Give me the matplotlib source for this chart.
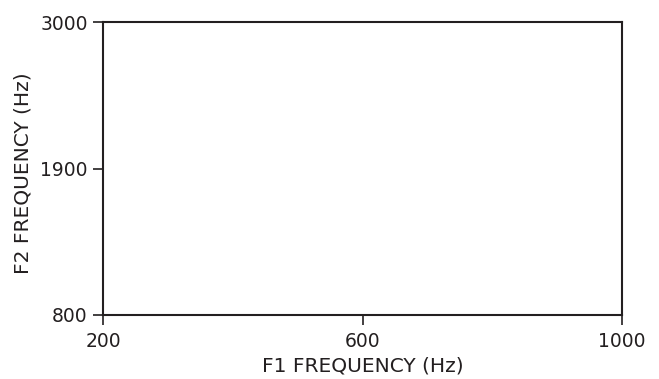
import matplotlib
matplotlib.use("Agg")
import matplotlib.pyplot as plt

# axis ranges and ticks
x_ticks = [200, 600, 1000]
y_ticks = [800, 1900, 3000]
x_label = "F1 FREQUENCY (Hz)"
y_label = "F2 FREQUENCY (Hz)"

plt.rcParams['font.family'] = ['DejaVu Sans']

fig = plt.figure(figsize=(6.59, 3.79), dpi=100)
ax = fig.add_axes([103/659, 64/379, 519/659, 293/379])

ax.set_xlim(x_ticks[0], x_ticks[-1])
ax.set_ylim(y_ticks[0], y_ticks[-1])
ax.set_xticks(x_ticks)
ax.set_yticks(y_ticks)
ax.tick_params(direction='out', length=7, width=1.2, labelsize=13.5, colors='#231f20')
ax.tick_params(axis='x', pad=5)
ax.tick_params(axis='y', pad=4)
for s in ax.spines.values():
    s.set_linewidth(1.5)
    s.set_color('#231f20')

ax.set_xlabel(x_label, fontsize=14.5, color='#231f20', labelpad=4)
ax.set_ylabel(y_label, fontsize=14.5, color='#231f20')
# reference label sits a little below centre and closer to the tick labels
ax.yaxis.set_label_coords(-0.135, 0.485)

fig.savefig("out.png", dpi=100)
